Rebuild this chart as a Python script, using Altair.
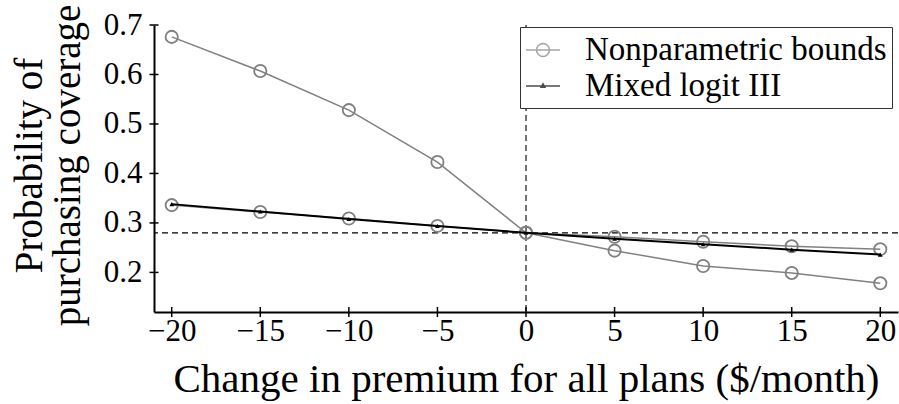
import altair as alt
import pandas as pd

# ---- data ----
x_vals = [-20, -15, -10, -5, 0, 5, 10, 15, 20]
upper_bound = [0.676, 0.607, 0.528, 0.423, 0.280, 0.272, 0.262, 0.253, 0.247]
lower_bound = [0.336, 0.322, 0.309, 0.294, 0.280, 0.244, 0.213, 0.199, 0.178]
mixed_logit = [0.338, 0.323, 0.308, 0.294, 0.280, 0.268, 0.257, 0.246, 0.236]
series_names = ["Nonparametric bounds", "Mixed logit III"]
x_ticks = [-20, -15, -10, -5, 0, 5, 10, 15, 20]
y_ticks = [0.2, 0.3, 0.4, 0.5, 0.6, 0.7]
baseline_x = [0]
baseline_y = [0.28]
x_domain = [-21, 21]
y_domain = [0.12, 0.70]

FONT = "'Liberation Serif', 'Times New Roman', Times, serif"
GRAY = "#808080"

rows = []
for xv, u, l, m in zip(x_vals, upper_bound, lower_bound, mixed_logit):
    rows.append({"x": xv, "y": u, "series": series_names[0], "bound": "upper"})
    rows.append({"x": xv, "y": l, "series": series_names[0], "bound": "lower"})
    rows.append({"x": xv, "y": m, "series": series_names[1], "bound": "ml"})
df = pd.DataFrame(rows)

X = alt.X(
    "x:Q",
    scale=alt.Scale(domain=x_domain, nice=False, zero=False),
    axis=alt.Axis(
        values=x_ticks, ticks=False, tickSize=0, grid=False,
        domainColor="black", domainWidth=2,
        labelFont=FONT, labelFontSize=31, labelColor="black", labelPadding=4,
        labelFlush=False, labelOverlap=False,
        title="Change in premium for all plans ($/month)",
        titleFont=FONT, titleFontSize=41, titleFontWeight="normal", titleColor="black",
        titleY=79, titleBaseline="alphabetic",
    ),
)
Y = alt.Y(
    "y:Q",
    scale=alt.Scale(domain=y_domain, nice=False, zero=False),
    axis=alt.Axis(
        values=y_ticks, format=".1f", ticks=False, tickSize=0, grid=False,
        domainColor="black", domainWidth=2,
        labelFont=FONT, labelFontSize=31, labelColor="black", labelPadding=12,
        labelFlush=False, labelOverlap=False,
        title=["Probability of", "purchasing coverage"],
        titleFont=FONT, titleFontSize=39, titleFontWeight="normal", titleColor="black",
        titleAngle=270, titleX=-125, titleY=140, titleBaseline="middle",
        titleAlign="center", titleLineHeight=38,
    ),
)

base = alt.Chart(df)

hrule = alt.Chart(pd.DataFrame({"y": baseline_y})).mark_rule(
    color="black", strokeWidth=1.1, strokeDash=[6, 4]
).encode(y=Y)
vrule = alt.Chart(pd.DataFrame({"x": baseline_x})).mark_rule(
    color="black", strokeWidth=1.1, strokeDash=[6, 4]
).encode(x=X)

np_data = base.transform_filter(alt.datum.series == series_names[0])
ml_data = base.transform_filter(alt.datum.series == series_names[1])

np_lines = np_data.mark_line(color=GRAY, strokeWidth=1.5).encode(x=X, y=Y, detail="bound:N")
np_points = np_data.mark_point(shape="circle", size=150, filled=False, color=GRAY, strokeWidth=1.8, opacity=1).encode(x=X, y=Y)
ml_line = ml_data.mark_line(color="black", strokeWidth=2).encode(x=X, y=Y)
ml_points = ml_data.mark_point(shape="triangle-up", size=22, filled=True, color="black", opacity=1).encode(x=X, y=Y)

# inout tick marks drawn through the axes' own scales
xtick_df = pd.DataFrame({"x": x_ticks, "y": [y_domain[0]] * len(x_ticks)})
ytick_df = pd.DataFrame({"y": y_ticks, "x": [x_domain[0]] * len(y_ticks)})
xticks_layer = alt.Chart(xtick_df).mark_tick(orient="vertical", size=10, thickness=1.5, color="black", opacity=1).encode(x=X, y=Y)
yticks_layer = alt.Chart(ytick_df).mark_tick(orient="horizontal", size=9, thickness=1.5, color="black", opacity=1).encode(x=X, y=Y)

# legend-only layer (no rows drawn), symbols combine line + marker
circle_pts = [(0.38, 0), (0.351, 0.145), (0.269, 0.269), (0.145, 0.351), (0, 0.38),
              (-0.145, 0.351), (-0.269, 0.269), (-0.351, 0.145), (-0.38, 0),
              (-0.351, -0.145), (-0.269, -0.269), (-0.145, -0.351), (0, -0.38),
              (0.145, -0.351), (0.269, -0.269), (0.351, -0.145)]
circle_path = "M-1,0L1,0M" + "L".join(f"{a},{b}" for a, b in circle_pts) + "Z"
tri_path = "M-1,0L1,0M0,-0.13L0.11,0.07L-0.11,0.07Z"

legend_kw = dict(
    title=None, orient="none", legendX=366, legendY=2,
    fillColor="white", strokeColor="#333333", padding=5, cornerRadius=0,
    labelFont=FONT, labelFontSize=33, labelColor="black", labelLimit=600,
    labelOffset=24, rowPadding=1, symbolSize=1156, symbolStrokeWidth=1.5,
)
legend_layer = base.transform_filter("false").mark_point(
    filled=False, size=1156, strokeWidth=1.5
).encode(
    x=X, y=Y,
    color=alt.Color("series:N", scale=alt.Scale(domain=series_names, range=[GRAY, "black"]),
                    legend=alt.Legend(**legend_kw)),
    shape=alt.Shape("series:N", scale=alt.Scale(domain=series_names, range=[circle_path, tri_path]),
                    legend=alt.Legend(**legend_kw)),
)

chart = alt.layer(
    hrule, vrule, np_lines, np_points, ml_line, ml_points,
    xticks_layer, yticks_layer, legend_layer
).properties(
    width=744, height=287,
    autosize=alt.AutoSizeParams(type="none"),
    padding={"left": 154, "top": 25, "right": 1, "bottom": 92},
    background="white",
).configure_view(stroke=None)

chart.save("out.html", embed_options={"renderer": "svg", "actions": False})
